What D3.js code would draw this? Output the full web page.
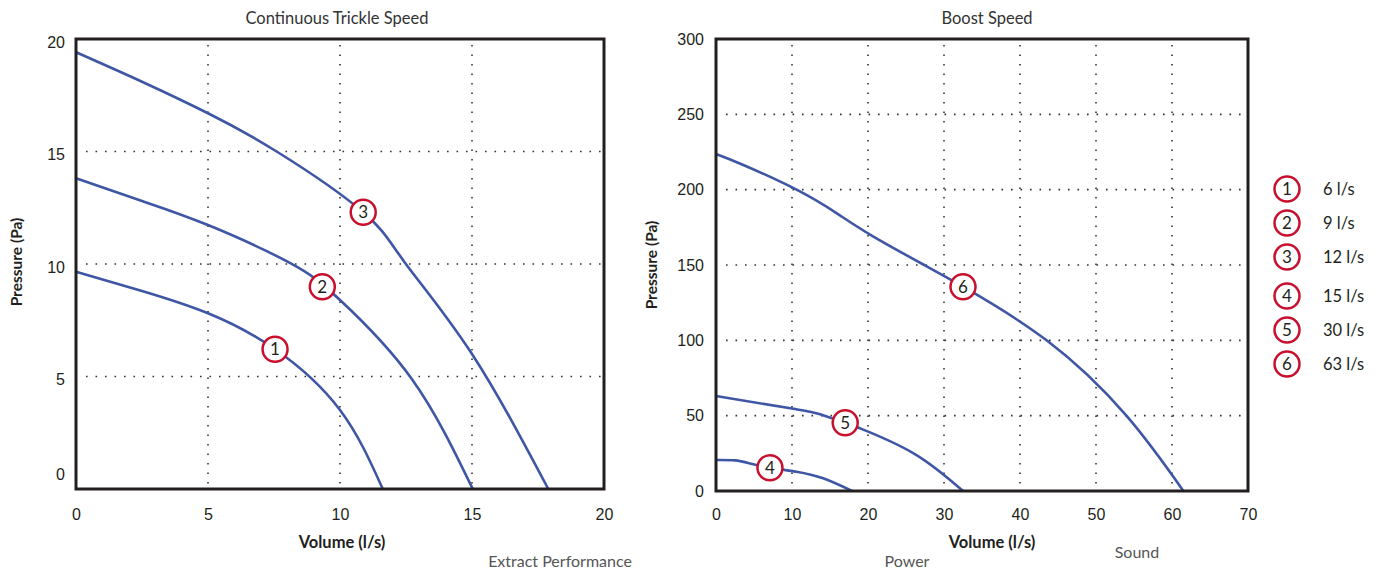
<!DOCTYPE html>
<html>
<head>
<meta charset="utf-8">
<script src="https://cdnjs.cloudflare.com/ajax/libs/d3/7.8.5/d3.min.js"></script>
<style>
  body { margin: 0; background: #fff; }
  svg { display: block; font-family: Lato, "Open Sans", sans-serif; }
  .tick text { font-size: 16px; fill: #231f20; }
</style>
</head>
<body>
<svg id="chart" width="1383" height="571"></svg>
<script>
// ---- data ----
var trickleXTicks = [0, 5, 10, 15, 20];
var trickleYTicks = [0, 5, 10, 15, 20];
var boostXTicks = [0, 10, 20, 30, 40, 50, 60, 70];
var boostYTicks = [0, 50, 100, 150, 200, 250, 300];

// curves: [volume l/s, pressure Pa]
var curve1 = [[0, 9.66], [2.5, 8.8], [5, 7.81], [7.54, 6.21], [10, 3.51], [11.62, 0]];
var curve2 = [[0, 13.81], [2.5, 12.8], [5, 11.73], [8.1, 10.05], [10, 8.4], [12.72, 4.89], [15.03, 0]];
var curve3 = [[0, 19.41], [2.5, 18.1], [5, 16.7], [7.6, 15.0], [10.88, 12.3], [12.46, 10.06], [15, 6.0], [17.89, 0]];
var curve4 = [[0, 20.6], [2.5, 20.3], [4.5, 18.3], [7.1, 15.5], [10.6, 12.8], [14.1, 8.4], [17.9, 0]];
var curve5 = [[0, 63], [10.6, 54.2], [13.7, 50.9], [17, 45.3], [18.95, 41.6], [26, 25], [32.5, 0]];
var curve6 = [[0, 223.7], [3.6, 216.4], [10.6, 200], [15.9, 184.3], [20.6, 169.2], [27.4, 150], [32.5, 135.6], [43.5, 100], [54, 50], [61.5, 0]];

// markers: [number, volume, pressure]
var trickleMarkers = [[1, 7.54, 6.21], [2, 9.33, 8.99], [3, 10.88, 12.3]];
var boostMarkers = [[4, 7.1, 15.4], [5, 17.0, 45.3], [6, 32.5, 135.6]];

var legendNumbers = [1, 2, 3, 4, 5, 6];
var legendLabels = ["6 l/s", "9 l/s", "12 l/s", "15 l/s", "30 l/s", "63 l/s"];

var footerLabels = ["Extract Performance", "Power", "Sound"];

var BLUE = "#3f56a5";
var RED = "#c8102e";
var INK = "#231f20";

var svg = d3.select("#chart");

function drawPanel(opt) {
  var x = d3.scaleLinear().domain(opt.xDomain).range([opt.left, opt.right]);
  var y = d3.scaleLinear().domain(opt.yDomain).range([opt.bottom, opt.top]);
  var g = svg.append("g");

  // dotted grid
  var grid = g.append("g")
      .attr("stroke", "#333")
      .attr("stroke-width", 1.6)
      .attr("stroke-dasharray", "1.6 7.9");
  grid.selectAll(".vg")
      .data(opt.xTicks.slice(1, -1))
    .enter().append("line")
      .attr("x1", function(d) { return x(d); })
      .attr("x2", function(d) { return x(d); })
      .attr("y1", opt.top + 6)
      .attr("y2", opt.bottom);
  grid.selectAll(".hg")
      .data(opt.yTicks.slice(1, -1))
    .enter().append("line")
      .attr("x1", opt.left + 10)
      .attr("x2", opt.right)
      .attr("y1", function(d) { return y(d); })
      .attr("y2", function(d) { return y(d); });

  // curves
  var line = d3.line()
      .x(function(d) { return x(d[0]); })
      .y(function(d) { return y(d[1]); })
      .curve(d3.curveNatural);
  g.selectAll(".curve")
      .data(opt.curves)
    .enter().append("path")
      .attr("d", line)
      .attr("fill", "none")
      .attr("stroke", BLUE)
      .attr("stroke-width", 2.6);

  // frame
  g.append("rect")
      .attr("x", opt.left)
      .attr("y", opt.top)
      .attr("width", opt.right - opt.left)
      .attr("height", opt.bottom - opt.top)
      .attr("fill", "none")
      .attr("stroke", INK)
      .attr("stroke-width", 3);

  // markers
  var m = g.selectAll(".marker")
      .data(opt.markers)
    .enter().append("g")
      .attr("transform", function(d) { return "translate(" + x(d[1]) + "," + y(d[2]) + ")"; });
  m.append("circle")
      .attr("r", 12.5)
      .attr("fill", "#fff")
      .attr("stroke", RED)
      .attr("stroke-width", 2.5);
  m.append("text")
      .attr("text-anchor", "middle")
      .attr("dy", "0.36em")
      .attr("font-size", 17)
      .attr("fill", INK)
      .text(function(d) { return d[0]; });

  // axes
  var xa = g.append("g")
      .attr("transform", "translate(0," + opt.bottom + ")")
      .call(d3.axisBottom(x).tickValues(opt.xTicks).tickSize(0).tickPadding(opt.xPad));
  xa.select(".domain").remove();
  var ya = g.append("g")
      .attr("transform", "translate(" + opt.left + ",0)")
      .call(d3.axisLeft(y).tickValues(opt.yTicks).tickSize(0).tickPadding(opt.yPad));
  ya.select(".domain").remove();
  ya.selectAll(".tick text")
      .attr("y", function(d) { return opt.yShift(d); });

  // titles
  g.append("text")
      .attr("x", opt.titleX)
      .attr("y", 24)
      .attr("text-anchor", "middle")
      .attr("font-size", 16.5)
      .attr("fill", "#333")
      .text(opt.title);
  g.append("text")
      .attr("x", opt.xLabelX)
      .attr("y", 548)
      .attr("text-anchor", "middle")
      .attr("font-size", 16.5)
      .attr("font-weight", 700)
      .attr("fill", INK)
      .text("Volume (l/s)");
  g.append("text")
      .attr("transform", "translate(" + opt.yLabelX + "," + opt.yLabelY + ") rotate(-90)")
      .attr("text-anchor", "middle")
      .attr("font-size", 15.5)
      .attr("font-weight", 700)
      .attr("fill", INK)
      .text("Pressure (Pa)");
}

drawPanel({
  left: 76, right: 604, top: 39, bottom: 489,
  xDomain: [0, 20], yDomain: [0, 20],
  xTicks: trickleXTicks, yTicks: trickleYTicks,
  curves: [curve1, curve2, curve3],
  markers: trickleMarkers,
  xPad: 20, yPad: 11,
  yShift: function(d) { return d === 0 ? -15 : 3; },
  title: "Continuous Trickle Speed", titleX: 337,
  xLabelX: 342, yLabelX: 22, yLabelY: 262
});

drawPanel({
  left: 716, right: 1248, top: 39, bottom: 491,
  xDomain: [0, 70], yDomain: [0, 300],
  xTicks: boostXTicks, yTicks: boostYTicks,
  curves: [curve4, curve5, curve6],
  markers: boostMarkers,
  xPad: 18, yPad: 12,
  yShift: function(d) { return 0; },
  title: "Boost Speed", titleX: 987,
  xLabelX: 992, yLabelX: 657, yLabelY: 265
});

// legend
var leg = svg.append("g")
    .selectAll("g")
    .data(legendNumbers)
  .enter().append("g")
    .attr("transform", function(d, i) {
      var ys = [189, 223, 257, 296, 330, 364];
      return "translate(1287," + ys[i] + ")";
    });
leg.append("circle")
    .attr("r", 12.5)
    .attr("fill", "#fff")
    .attr("stroke", RED)
    .attr("stroke-width", 2.5);
leg.append("text")
    .attr("text-anchor", "middle")
    .attr("dy", "0.36em")
    .attr("font-size", 17)
    .attr("fill", INK)
    .text(function(d) { return d; });
leg.append("text")
    .attr("x", 36)
    .attr("dy", "0.36em")
    .attr("font-size", 16.5)
    .attr("fill", INK)
    .text(function(d, i) { return legendLabels[i]; });

// footer labels
var footerPos = [[560, 567], [907, 567], [1137, 558]];
svg.selectAll(".footer")
    .data(footerLabels)
  .enter().append("text")
    .attr("x", function(d, i) { return footerPos[i][0]; })
    .attr("y", function(d, i) { return footerPos[i][1]; })
    .attr("text-anchor", "middle")
    .attr("font-size", 16)
    .attr("fill", "#555")
    .text(function(d) { return d; });
</script>
</body>
</html>
